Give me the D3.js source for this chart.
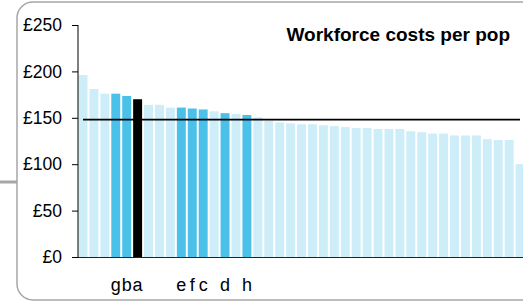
<!DOCTYPE html>
<html>
<head>
<meta charset="utf-8">
<script src="https://cdn.jsdelivr.net/npm/d3@7"></script>
<style>
body { margin: 0; background: #fff; }
svg { display: block; font-family: Arial, "Liberation Sans", sans-serif; }
</style>
</head>
<body>
<script>
// bar values, left to right (sorted)
var values = [196,181,176,176,173.5,170,164,164,161,161,160,159,157,155,154,153,150.5,147,145,144,
  143,143,142,141,140,139,139,138,138,138,135.5,134.5,133,133,131,131,131,127,126,126,100];
var labels = ["","","","g","b","a","","","","e","f","c","","d","","h","","","","",
  "","","","","","","","","","","","","","","","","","","","",""];
// 0 = others, 1 = comparators, 2 = this one
var groups = [0,0,0,1,1,2,0,0,0,1,1,1,0,1,0,1,0,0,0,0,
  0,0,0,0,0,0,0,0,0,0,0,0,0,0,0,0,0,0,0,0,0];
var average = 148;
var yTicks = [0,50,100,150,200,250];
var title = "Workforce costs per pop";

var width = 523, height = 302;
var colors = ["#cdedf9", "#4bc1ea", "#000000"];

var svg = d3.select("body").append("svg")
    .attr("width", width)
    .attr("height", height);

// frame
svg.append("rect")
    .attr("x", 17).attr("y", 2)
    .attr("width", 620).attr("height", 298)
    .attr("rx", 16)
    .attr("fill", "none")
    .attr("stroke", "#a6a6a6")
    .attr("stroke-width", 1.5);
svg.append("line")
    .attr("x1", 0).attr("x2", 17)
    .attr("y1", 182).attr("y2", 182)
    .attr("stroke", "#a6a6a6")
    .attr("stroke-width", 3);

var x = d3.scaleBand()
    .domain(d3.range(values.length))
    .range([78, 78 + values.length * 10.88])
    .paddingInner(0.18)
    .paddingOuter(0);

var y = d3.scaleLinear()
    .domain([0, 250])
    .range([257, 25]);

var g = svg.append("g");

g.selectAll("rect.bar")
    .data(values)
    .enter().append("rect")
    .attr("class", "bar")
    .attr("x", function(d, i) { return x(i) + 0.5; })
    .attr("width", x.bandwidth())
    .attr("y", function(d) { return y(d); })
    .attr("height", function(d) { return y(0) - y(d); })
    .attr("fill", function(d, i) { return colors[groups[i]]; });

// average line
g.append("line")
    .attr("x1", 83).attr("x2", 520)
    .attr("y1", y(average)).attr("y2", y(average))
    .attr("stroke", "#000")
    .attr("stroke-width", 1.6);

// y axis
var yAxis = svg.append("g")
    .attr("transform", "translate(78,0)")
    .call(d3.axisLeft(y).tickValues(yTicks).tickSize(6).tickPadding(10)
      .tickFormat(function(d) { return "£" + d; }));
yAxis.select(".domain").attr("d", "M0," + y(250) + "V" + y(0));
yAxis.selectAll("text").attr("font-size", 17.5).attr("fill", "#000")
    .attr("font-family", "Arial, 'Liberation Sans', sans-serif");

// x axis line
svg.append("line")
    .attr("x1", 78).attr("x2", width)
    .attr("y1", y(0) + 0.5).attr("y2", y(0) + 0.5)
    .attr("stroke", "#222")
    .attr("stroke-width", 1);

// category labels
svg.selectAll("text.cat")
    .data(labels)
    .enter().append("text")
    .attr("class", "cat")
    .attr("x", function(d, i) { return x(i) + 0.5 + x.bandwidth() / 2; })
    .attr("y", 291)
    .attr("text-anchor", "middle")
    .attr("font-size", 18)
    .text(function(d) { return d; });

svg.append("text")
    .attr("x", 510).attr("y", 41)
    .attr("text-anchor", "end")
    .attr("font-size", 19)
    .attr("font-weight", "bold")
    .text(title);
</script>
</body>
</html>
